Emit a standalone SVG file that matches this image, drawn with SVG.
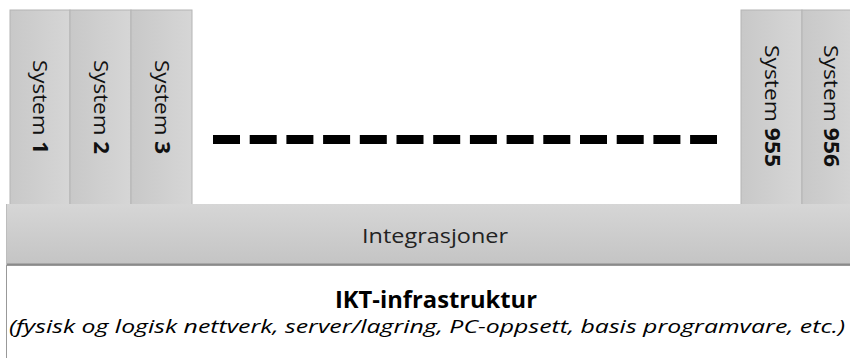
<svg xmlns="http://www.w3.org/2000/svg" width="850" height="358" viewBox="0 0 850 358">
<style>
.col{fill:url(#gcol);stroke:#b4b4b4;stroke-width:1}
.st{font-family:"Open Sans","Liberation Sans",sans-serif;font-size:20.5px;fill:#111}
.b{font-weight:bold}
.bar{fill:url(#gbar)}
</style>
<defs>
<linearGradient id="gcol" x1="0" y1="0" x2="1" y2="0">
<stop offset="0" stop-color="#c8c8c8"/><stop offset="1" stop-color="#d6d6d6"/>
</linearGradient>
<linearGradient id="gbar" x1="0" y1="0" x2="0" y2="1">
<stop offset="0" stop-color="#d6d6d6"/><stop offset="1" stop-color="#c4c4c4"/>
</linearGradient>
</defs>
<g id="system1"><rect class="col" x="10" y="10" width="60" height="195"/><text class="st" transform="translate(33,60) rotate(90)" textLength="94" lengthAdjust="spacingAndGlyphs">System <tspan class="b">1</tspan></text></g>
<g id="system2"><rect class="col" x="70" y="10" width="61" height="195"/><text class="st" transform="translate(94,60) rotate(90)" textLength="94" lengthAdjust="spacingAndGlyphs">System <tspan class="b">2</tspan></text></g>
<g id="system3"><rect class="col" x="131" y="10" width="61" height="195"/><text class="st" transform="translate(155,60) rotate(90)" textLength="94" lengthAdjust="spacingAndGlyphs">System <tspan class="b">3</tspan></text></g>
<g id="system955"><rect class="col" x="741" y="10" width="61" height="195"/><text class="st" transform="translate(765,45) rotate(90)" textLength="122" lengthAdjust="spacingAndGlyphs">System <tspan class="b">955</tspan></text></g>
<g id="system956"><rect class="col" x="802" y="10" width="60" height="195"/><text class="st" transform="translate(824,45) rotate(90)" textLength="122" lengthAdjust="spacingAndGlyphs">System <tspan class="b">956</tspan></text></g>
<g id="connectors"><line x1="213" y1="139.5" x2="717" y2="139.5" stroke="#000" stroke-width="9" stroke-dasharray="27,9.7"/></g>
<g id="integrasjoner"><rect class="bar" x="6" y="204" width="850" height="61"/><line x1="6" y1="264.5" x2="850" y2="264.5" stroke="#8a8a8a" stroke-width="2"/><line x1="6.5" y1="204" x2="6.5" y2="265" stroke="#bdbdbd"/><text x="435" y="243" text-anchor="middle" font-family="Open Sans, Liberation Sans, sans-serif" font-size="20" fill="#222" textLength="146" lengthAdjust="spacingAndGlyphs">Integrasjoner</text></g>
<g id="ikt"><rect x="6.5" y="265.5" width="850" height="100" fill="#fff" stroke="#999"/><text x="436" y="308" text-anchor="middle" font-family="Open Sans, Liberation Sans, sans-serif" font-size="23" font-weight="bold" fill="#000" textLength="202" lengthAdjust="spacingAndGlyphs">IKT-infrastruktur</text><text x="9" y="333" font-family="Open Sans, Liberation Sans, sans-serif" font-size="19" font-style="italic" fill="#000" textLength="836" lengthAdjust="spacingAndGlyphs">(fysisk og logisk nettverk, server/lagring, PC-oppsett, basis programvare, etc.)</text></g>
</svg>
